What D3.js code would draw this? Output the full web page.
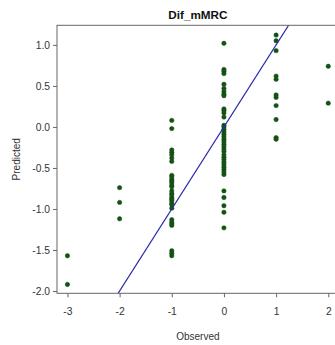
<!DOCTYPE html>
<html><head><meta charset="utf-8">
<script src="https://cdn.jsdelivr.net/npm/d3@7"></script>
<style>html,body{margin:0;padding:0;background:#fff;}svg{display:block;}</style>
</head><body>
<script>
const title = "Dif_mMRC";
const xLabel = "Observed";
const yLabel = "Predicted";
const xTicks = [-3, -2, -1, 0, 1, 2];
const yTicks = [-2.0, -1.5, -1.0, -0.5, 0.0, 0.5, 1.0];
const observedLevels = [-3, -2, -1, 0, 1, 2];
const predMinus3 = [-1.57, -1.92];
const predMinus2 = [-0.74, -0.92, -1.12];
const predMinus1 = [0.08, -0.02, -0.28, -0.31, -0.34, -0.38, -0.42, -0.59, -0.61, -0.64, -0.66, -0.68, -0.71, -0.73, -0.78, -0.81, -0.83, -0.86, -0.88, -0.90, -0.93, -0.95, -0.99, -1.13, -1.16, -1.18, -1.20, -1.51, -1.54, -1.57];
const predZero = [1.02, 0.70, 0.68, 0.65, 0.52, 0.47, 0.43, 0.40, 0.38, 0.22, 0.20, 0.17, 0.12, 0.02, 0.00, -0.03, -0.06, -0.09, -0.12, -0.15, -0.18, -0.21, -0.24, -0.27, -0.30, -0.34, -0.37, -0.40, -0.43, -0.46, -0.49, -0.52, -0.55, -0.58, -0.78, -0.86, -0.96, -1.04, -1.23];
const predPlus1 = [1.12, 1.05, 0.93, 0.62, 0.58, 0.39, 0.36, 0.26, 0.09, -0.13, -0.15];
const predPlus2 = [0.74, 0.29];
const refLine = {intercept: 0, slope: 1};

const groups = [predMinus3, predMinus2, predMinus1, predZero, predPlus1, predPlus2];
const points = [];
groups.forEach((g, i) => g.forEach(v => points.push({x: observedLevels[i], y: v})));

const W = 335, H = 345;
const svg = d3.select("body").append("svg").attr("width", W).attr("height", H);
const font = "'Liberation Sans', Arial, sans-serif";

const x = d3.scaleLinear().domain([-3.2, 2.2]).range([57, 338.7]);
const y = d3.scaleLinear().domain([-2.028, 1.239]).range([293.3, 25.3]);

svg.append("defs").append("clipPath").attr("id", "clip")
  .append("rect").attr("x", x(-3.2)).attr("y", y(1.239)).attr("width", x(2.2) - x(-3.2)).attr("height", y(-2.028) - y(1.239));

// points
svg.append("g").attr("clip-path", "url(#clip)")
  .selectAll("circle").data(points).join("circle")
  .attr("cx", d => x(d.x)).attr("cy", d => y(d.y)).attr("r", 2.2)
  .attr("fill", "#0a5a0a").attr("stroke", "#2a402a").attr("stroke-width", 0.5);

// reference line y = x
const xd = x.domain();
svg.append("g").attr("clip-path", "url(#clip)").append("line")
  .attr("x1", x(xd[0])).attr("y1", y(refLine.intercept + refLine.slope * xd[0]))
  .attr("x2", x(xd[1])).attr("y2", y(refLine.intercept + refLine.slope * xd[1]))
  .attr("stroke", "#2a2aaa").attr("stroke-width", 1.2);

// box
svg.append("rect").attr("x", x(-3.2)).attr("y", y(1.239))
  .attr("width", x(2.2) - x(-3.2)).attr("height", y(-2.028) - y(1.239))
  .attr("fill", "none").attr("stroke", "#666").attr("stroke-width", 1);

// axes
const ya = svg.append("g").attr("transform", `translate(${x(-3.2)},0)`)
  .call(d3.axisLeft(y).tickValues(yTicks).tickSize(4).tickPadding(3).tickFormat(d => d.toFixed(1)));
const xa = svg.append("g").attr("transform", `translate(0,${y(-2.028)})`)
  .call(d3.axisBottom(x).tickValues(xTicks).tickSize(4).tickPadding(10).tickFormat(d => String(d)));
[ya, xa].forEach(a => {
  a.select(".domain").remove();
  a.selectAll(".tick line").attr("stroke", "#666");
  a.selectAll(".tick text").attr("fill", "#333").attr("font-family", font).attr("font-size", 10.3);
});

svg.append("text").attr("x", (x(-3.2) + x(2.2)) / 2).attr("y", 19)
  .attr("text-anchor", "middle").attr("font-family", font).attr("font-weight", "bold")
  .attr("font-size", 11.7).attr("fill", "#111").text(title);
svg.append("text").attr("x", (x(-3.2) + x(2.2)) / 2).attr("y", 340)
  .attr("text-anchor", "middle").attr("font-family", font).attr("font-size", 10)
  .attr("fill", "#333").text(xLabel);
svg.append("text").attr("transform", `translate(20,${(y(1.239) + y(-2.028)) / 2}) rotate(-90)`)
  .attr("text-anchor", "middle").attr("font-family", font).attr("font-size", 10)
  .attr("fill", "#333").text(yLabel);
</script>
</body></html>
